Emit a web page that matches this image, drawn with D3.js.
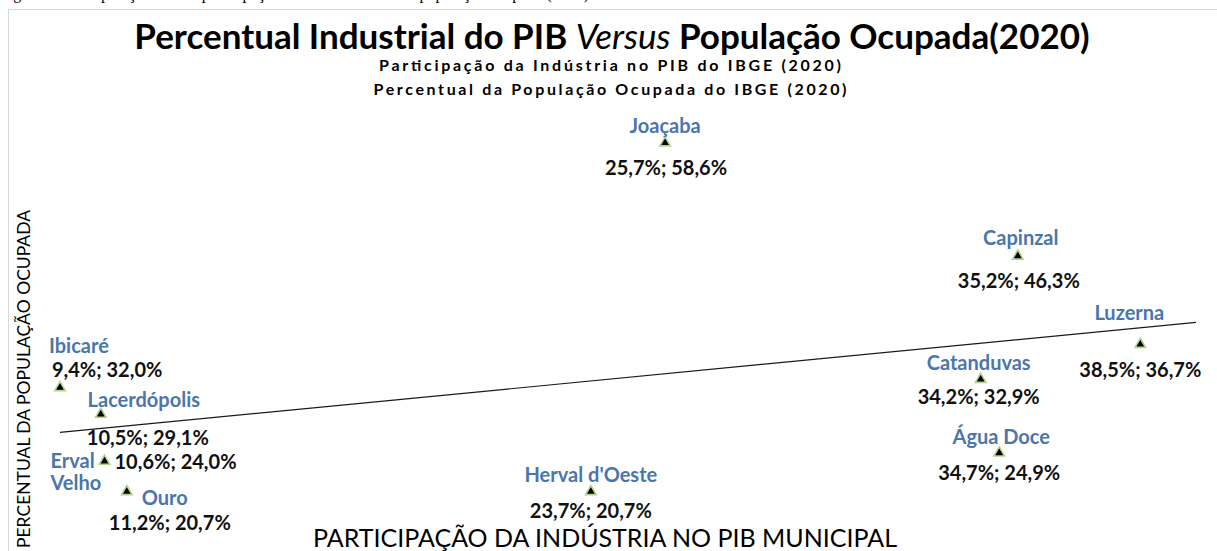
<!DOCTYPE html>
<html>
<head>
<meta charset="utf-8">
<script src="https://cdn.jsdelivr.net/npm/d3@7"></script>
<style>
  html, body { margin: 0; padding: 0; background: #fff; overflow: hidden; }
  svg { display: block; }
</style>
</head>
<body>
<svg id="chart" width="1217" height="551"></svg>
<script>
// ---------------- DATA ----------------
const municipios   = ["Joaçaba", "Capinzal", "Luzerna", "Catanduvas", "Água Doce", "Herval d'Oeste", "Ibicaré", "Lacerdópolis", "Erval Velho", "Ouro"];
const industriaPIB = [25.7, 35.2, 38.5, 34.2, 34.7, 23.7, 9.4, 10.5, 10.6, 11.2];   // % indústria no PIB
const popOcupada   = [58.6, 46.3, 36.7, 32.9, 24.9, 20.7, 32.0, 29.1, 24.0, 20.7];  // % população ocupada
const xDomain = [8, 40];
const yDomain = [20, 60];
const titulo     = ["Percentual Industrial do PIB ", "Versus", " População Ocupada(2020)"];
const subtitulos = ["Participação da Indústria no PIB do IBGE (2020)", "Percentual da População Ocupada do IBGE (2020)"];
const tituloX = "PARTICIPAÇÃO DA INDÚSTRIA NO PIB MUNICIPAL";
const tituloY = "PERCENTUAL DA POPULAÇÃO OCUPADA";
const legenda = "Figura 6 – Comparação entre a participação industrial no PIB e a população ocupada (2020)";

// ---------------- LAYOUT (label offsets relative to marker) ----------------
const labelLayout = {
  "Joaçaba":        { name: [0, -17, "middle"],  value: [1, 25, "middle"] },
  "Capinzal":       { name: [3, -18, "middle"],  value: [1, 25, "middle"] },
  "Luzerna":        { name: [-11, -31, "middle"], value: [0, 26, "middle"] },
  "Catanduvas":     { name: [-2, -16, "middle"], value: [-2, 18, "middle"] },
  "Água Doce":      { name: [2, -16, "middle"],  value: [0, 20, "middle"] },
  "Herval d'Oeste": { name: [0, -17, "middle"],  value: [0, 19, "middle"] },
  "Ibicaré":        { name: [-11, -42, "start"], value: [-8, -18, "start"] },
  "Lacerdópolis":   { name: [43, -14, "middle"], value: [47, 24, "middle"] },
  "Erval Velho":    { name: [-54, 0, "start"], value: [10, 1, "start"], wrap: true },
  "Ouro":           { name: [38, 6, "middle"],   value: [43, 31, "middle"] }
};

const W = 1217, H = 551;
const FONT = "Lato, 'Open Sans', sans-serif";
const svg = d3.select("#chart");

svg.append("rect").attr("width", W).attr("height", H).attr("fill", "#fff");

// caption of the document (only its lower edge is visible)
svg.append("text")
  .attr("x", 0).attr("y", -1)
  .attr("font-family", "'Liberation Serif', 'Times New Roman', serif")
  .attr("font-size", 16)
  .attr("fill", "#000")
  .text(legenda);

// chart frame
svg.append("rect")
  .attr("x", 8.5).attr("y", 9.5)
  .attr("width", 1300).attr("height", 700)
  .attr("fill", "#fff")
  .attr("stroke", "#d9d9d9").attr("stroke-width", 1);

// scales
const x = d3.scaleLinear().domain(xDomain).range([8, 1196]);
const y = d3.scaleLinear().domain(yDomain).range([498, 130]);

// title
const t = svg.append("text")
  .attr("x", 612).attr("y", 49)
  .attr("text-anchor", "middle")
  .attr("font-family", FONT)
  .attr("font-size", 35)
  .attr("fill", "#000");
t.append("tspan").attr("font-weight", "bold").text(titulo[0]);
t.append("tspan").attr("font-style", "italic").attr("font-weight", "normal").text(titulo[1]);
t.append("tspan").attr("font-weight", "bold").text(titulo[2]);

// subtitles
const subW = [462, 473];
const subY = [71, 95];
subtitulos.forEach((s, i) => {
  svg.append("text")
    .attr("x", 610).attr("y", subY[i])
    .attr("text-anchor", "middle")
    .attr("font-family", FONT)
    .attr("font-weight", "bold")
    .attr("font-size", 16)
    .attr("textLength", subW[i])
    .attr("lengthAdjust", "spacing")
    .attr("fill", "#000")
    .text(s);
});

// axis titles
svg.append("text")
  .attr("x", 605).attr("y", 547)
  .attr("text-anchor", "middle")
  .attr("font-family", FONT)
  .attr("font-size", 25)
  .attr("fill", "#000")
  .text(tituloX);

svg.append("text")
  .attr("transform", "translate(30,379) rotate(-90)")
  .attr("text-anchor", "middle")
  .attr("font-family", FONT)
  .attr("font-size", 17.5)
  .attr("fill", "#000")
  .text(tituloY);

// trendline (linear regression of the series)
const mx = d3.mean(industriaPIB), my = d3.mean(popOcupada);
const slope = d3.sum(industriaPIB, (v, i) => (v - mx) * (popOcupada[i] - my)) /
              d3.sum(industriaPIB, v => (v - mx) * (v - mx));
const icpt = my - slope * mx;
const trendXs = [d3.min(industriaPIB), xDomain[1]];
svg.append("path")
  .attr("d", d3.line().x(v => x(v)).y(v => y(icpt + slope * v))(trendXs))
  .attr("fill", "none")
  .attr("stroke", "#1a1a1a")
  .attr("stroke-width", 1.2);

// points
const data = municipios.map((m, i) => ({ m, xv: industriaPIB[i], yv: popOcupada[i] }));
const ptBR = d3.formatLocale({ decimal: ",", thousands: ".", grouping: [3], currency: ["R$", ""] });
const f1 = ptBR.format(".1f");

const g = svg.append("g");
g.selectAll("path.pt")
  .data(data)
  .join("path")
  .attr("class", "pt")
  .attr("transform", d => `translate(${x(d.xv)},${y(d.yv)})`)
  .attr("d", d3.symbol().type(d3.symbolTriangle).size(48))
  .attr("fill", "#000")
  .attr("stroke", "#b5d38a")
  .attr("stroke-width", 1.6);

// labels
data.forEach(d => {
  const L = labelLayout[d.m];
  const px = x(d.xv), py = y(d.yv);
  if (L.wrap) {
    // multi-line name: one text element per line
    d.m.split(" ").forEach((p, k) => {
      g.append("text")
        .attr("x", px + L.name[0]).attr("y", py + L.name[1] + k * 22)
        .attr("dy", "0.35em")
        .attr("text-anchor", L.name[2])
        .attr("font-family", FONT)
        .attr("font-weight", "bold")
        .attr("font-size", 20)
        .attr("fill", "#4a76ad")
        .text(p);
    });
  } else {
    g.append("text")
      .attr("x", px + L.name[0]).attr("y", py + L.name[1])
      .attr("dy", "0.35em")
      .attr("text-anchor", L.name[2])
      .attr("font-family", FONT)
      .attr("font-weight", "bold")
      .attr("font-size", 20)
      .attr("fill", "#4a76ad")
      .text(d.m);
  }
  g.append("text")
    .attr("x", px + L.value[0]).attr("y", py + L.value[1])
    .attr("dy", "0.35em")
    .attr("text-anchor", L.value[2])
    .attr("font-family", FONT)
    .attr("font-weight", "bold")
    .attr("font-size", 20)
    .attr("fill", "#111")
    .text(`${f1(d.xv)}%; ${f1(d.yv)}%`);
});
</script>
</body>
</html>
